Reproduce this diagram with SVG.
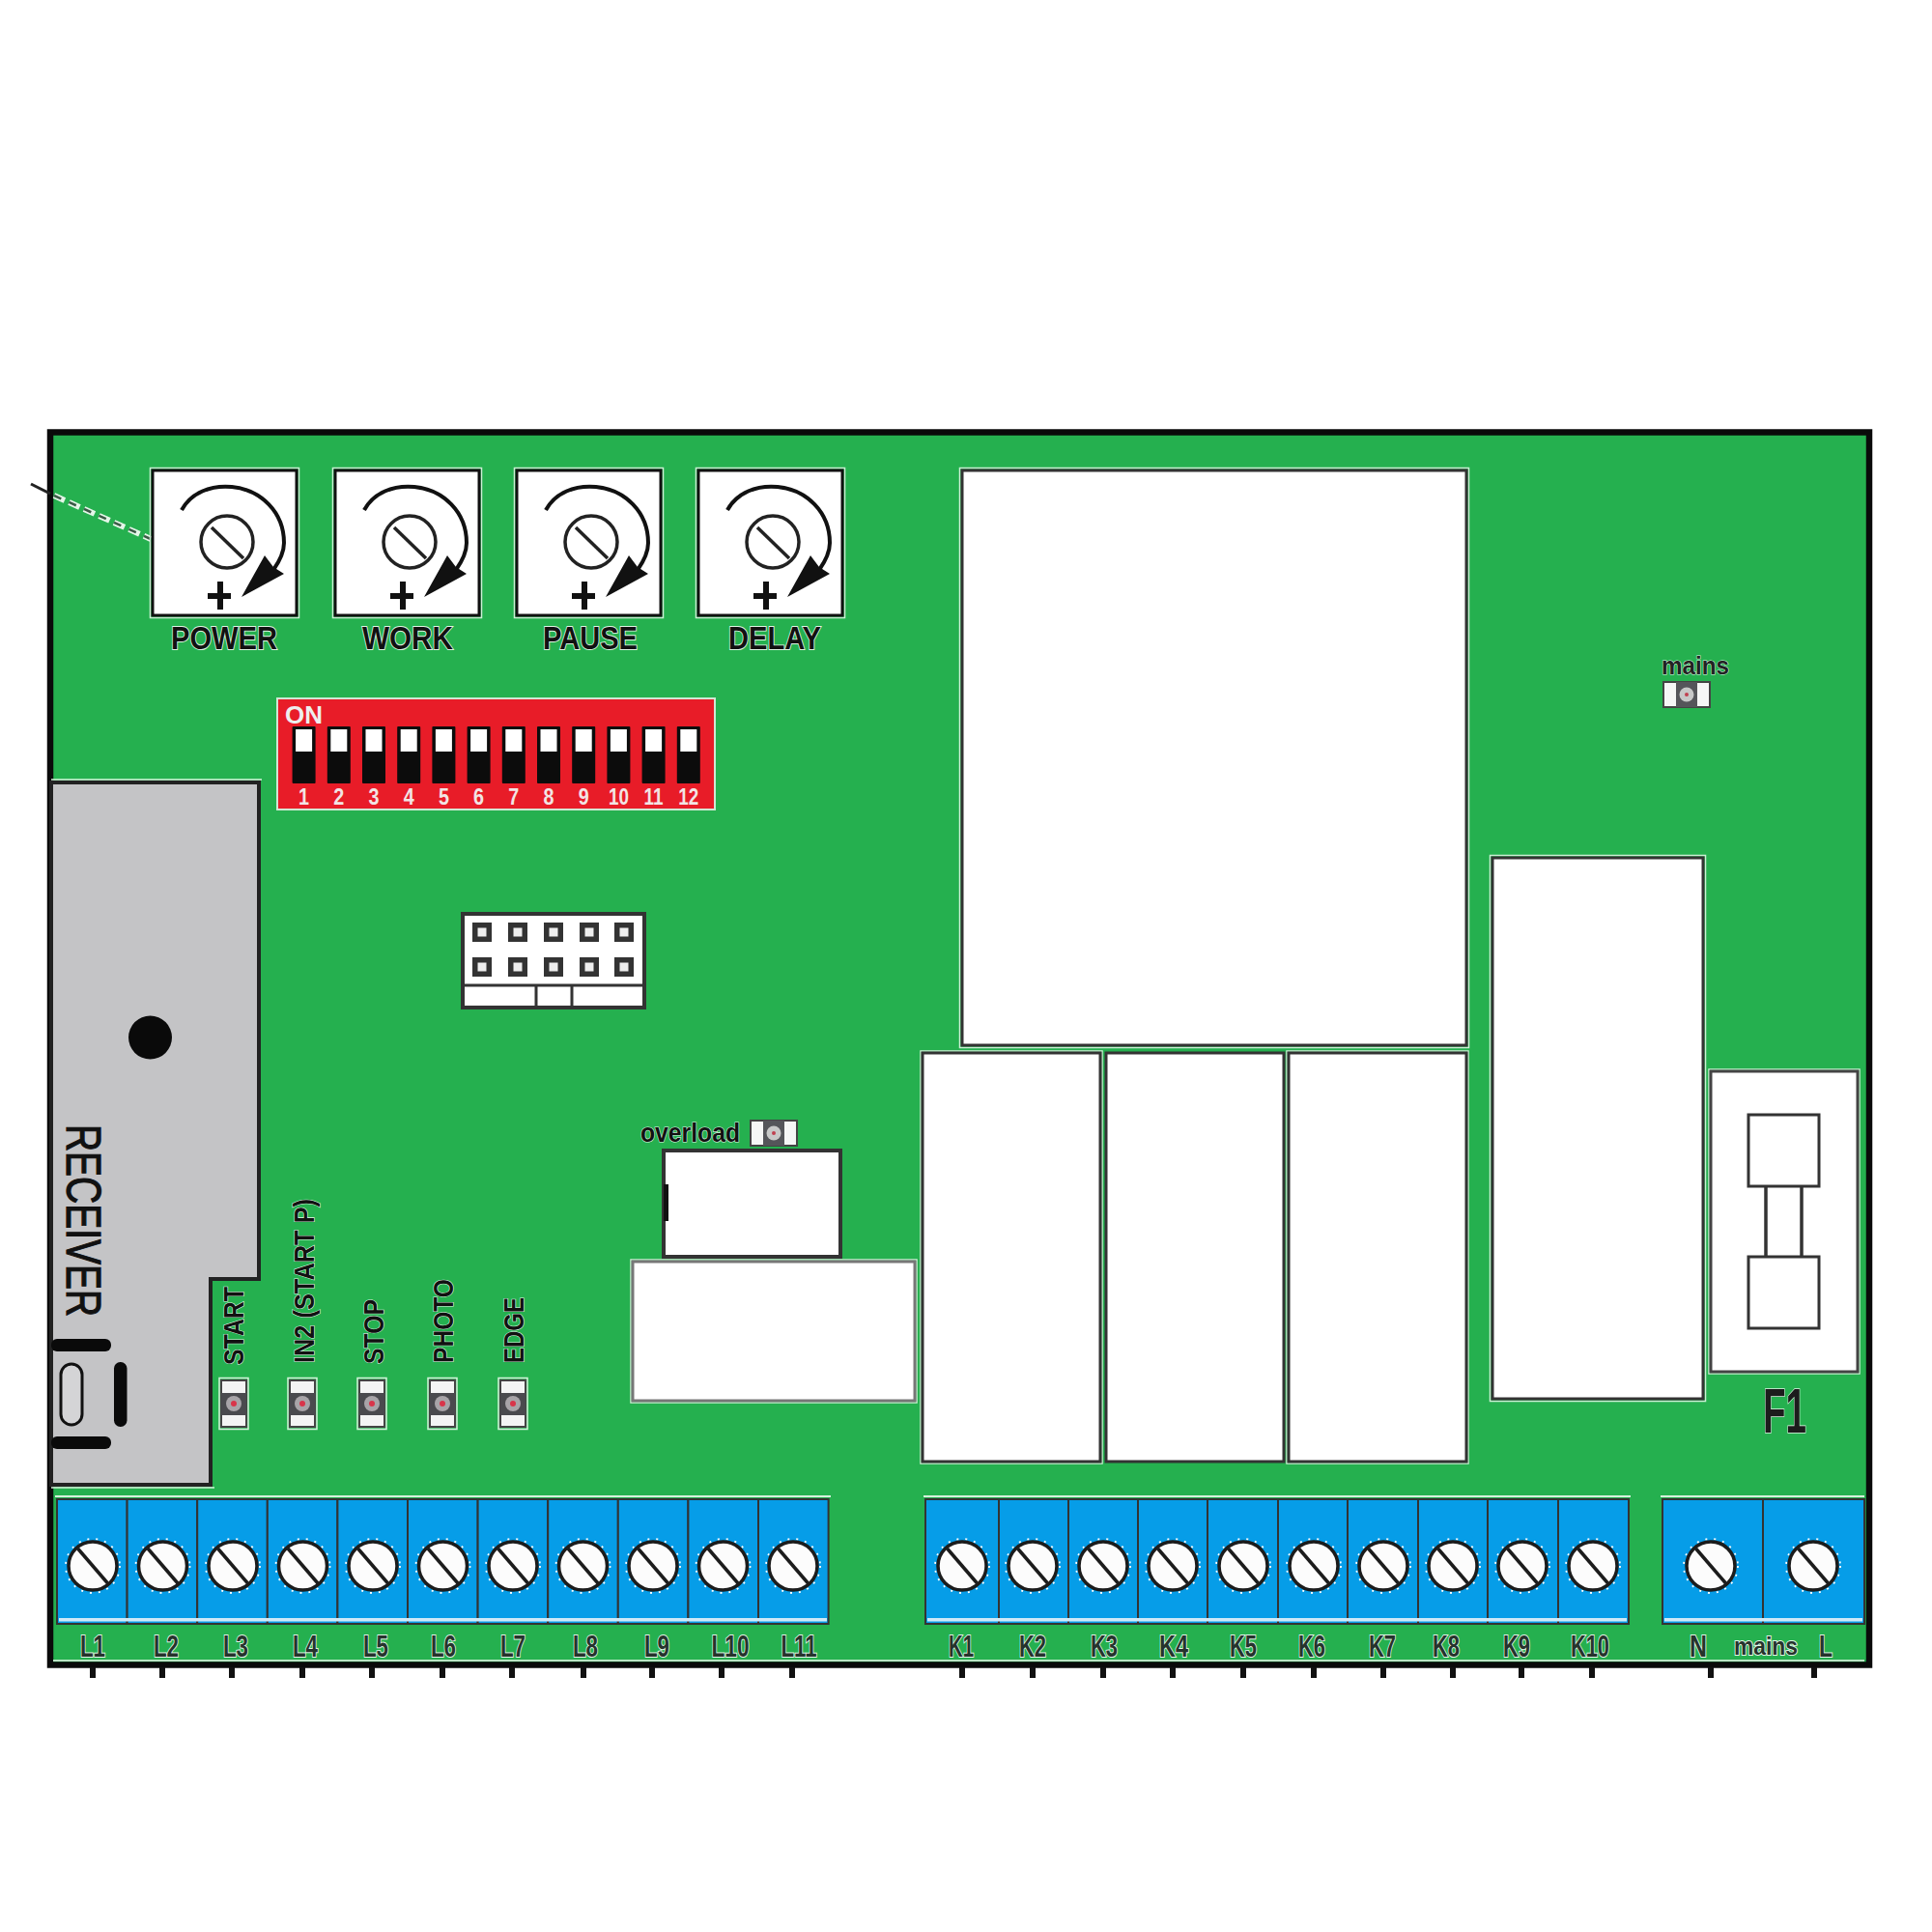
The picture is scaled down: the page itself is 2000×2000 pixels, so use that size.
<svg xmlns="http://www.w3.org/2000/svg" width="2000" height="2000" viewBox="0 0 2000 2000">
<style>
text{font-family:"Liberation Sans",Arial,sans-serif}
.halo{fill:none;stroke:#cdeed5;stroke-width:1.500}
.box{fill:#fff;stroke:#333;stroke-width:3}
.soft{fill:#fff;stroke:#777;stroke-width:3}
.blk{fill:#111}
.lbl{fill:#111;stroke:#dff5e4;stroke-width:1.800;paint-order:stroke;font-size:33px;font-weight:bold}
.vl{fill:#111;stroke:#dff5e4;stroke-width:1.200;paint-order:stroke;font-size:29px;font-weight:bold}
.tl{fill:#26332c;stroke:#e3f6e8;stroke-width:2;paint-order:stroke;font-size:32px;font-weight:bold}
.dipn{fill:#f2e4e4;font-size:24px;text-anchor:middle;font-weight:bold}
.cell{fill:#069de8;stroke:#333;stroke-width:2}
.strip{fill:#cfe9f8}
.tick{fill:#111}
</style>
<defs>
<g id="knob">
<rect class="halo" x="155.500" y="484.500" width="154" height="155"/>
<rect x="158" y="487" width="149" height="150" fill="#fff" stroke="#111" stroke-width="3"/>
<circle cx="235" cy="561" r="27" fill="#fff" stroke="#222" stroke-width="3.500"/>
<line x1="219" y1="546" x2="252" y2="578" stroke="#222" stroke-width="3.500"/>
<path d="M188,528 C198,510 218,502 240,504 C270,507 294,530 294,562 C294,570 290,580 283,590" fill="none" stroke="#111" stroke-width="4"/>
<polygon points="250,618 274,575 283,587 294,594" fill="#111"/>
<path d="M215,617 H239 M228,602 V631" stroke="#111" stroke-width="6" fill="none"/>
</g>
<g id="switch">
<rect x="-12" y="752" width="24" height="59" fill="#0c0c0c" rx="1"/>
<rect x="-8.500" y="755" width="17" height="23" fill="#fff"/>
</g>
<g id="led">
<rect x="-15" y="-26.500" width="30" height="53" fill="none" stroke="#d6f1dc" stroke-width="1.500"/>
<rect x="-13" y="-24" width="26" height="48" fill="#f4f4f4" stroke="#444" stroke-width="2"/>
<rect x="-13" y="-11" width="26" height="23" fill="#4a4a4e"/>
<circle r="8" fill="#a8a4a8"/>
<circle r="3" fill="#d8354a"/>
</g>
<g id="ledh">
<rect x="-24" y="-13" width="48" height="26" fill="#f6f6f6" stroke="#444" stroke-width="2"/>
<rect x="-11" y="-13" width="22" height="26" fill="#55555a"/>
<circle r="7.500" fill="#c8c8c8"/>
<circle r="2" fill="#c04050"/>
</g>
<g id="screw">
<circle r="28" fill="none" stroke="#fff" stroke-width="1.800" stroke-dasharray="2 7"/>
<circle r="25" fill="#fcfcfc" stroke="#1c1c1c" stroke-width="3.500"/>
<line x1="-15.500" y1="-18" x2="15.500" y2="18" stroke="#1c1c1c" stroke-width="3.500"/>
</g>
<g id="pin">
<rect x="-10" y="-10" width="20" height="20" fill="#333"/>
<rect x="-4.500" y="-4.500" width="9" height="9" fill="#eee"/>
</g>
</defs>
<rect width="2000" height="2000" fill="#fff"/>
<g id="board">
<rect x="52" y="447.500" width="1883" height="1276" fill="#25b04f" stroke="#0a0a0a" stroke-width="6.500"/>
<line x1="55" y1="1719" x2="1930" y2="1719" stroke="#b9e6c4" stroke-width="2"/>
<g class="tick">
<rect x="93" y="1726" width="6" height="11"/><rect x="165" y="1726" width="6" height="11"/><rect x="237" y="1726" width="6" height="11"/><rect x="310" y="1726" width="6" height="11"/><rect x="382" y="1726" width="6" height="11"/><rect x="455" y="1726" width="6" height="11"/><rect x="527" y="1726" width="6" height="11"/><rect x="601" y="1726" width="6" height="11"/><rect x="672" y="1726" width="6" height="11"/><rect x="744" y="1726" width="6" height="11"/><rect x="817" y="1726" width="6" height="11"/>
<rect x="993" y="1726" width="6" height="11"/><rect x="1066" y="1726" width="6" height="11"/><rect x="1139" y="1726" width="6" height="11"/><rect x="1211" y="1726" width="6" height="11"/><rect x="1284" y="1726" width="6" height="11"/><rect x="1357" y="1726" width="6" height="11"/><rect x="1429" y="1726" width="6" height="11"/><rect x="1501" y="1726" width="6" height="11"/><rect x="1572" y="1726" width="6" height="11"/><rect x="1645" y="1726" width="6" height="11"/><rect x="1768" y="1726" width="6" height="11"/><rect x="1875" y="1726" width="6" height="11"/>
</g>
</g>
<g id="connectors">
<line x1="32" y1="501" x2="52" y2="511" stroke="#222" stroke-width="3"/>
<line x1="56" y1="513" x2="156" y2="558" stroke="#e4f6e8" stroke-width="6" stroke-dasharray="12 5"/>
<line x1="56" y1="513" x2="156" y2="558" stroke="#3b5a46" stroke-width="2.500" stroke-dasharray="8 9"/>
</g>
<g id="knob-power"><use href="#knob"/><text class="lbl" x="232" y="672" text-anchor="middle" textLength="110" lengthAdjust="spacingAndGlyphs">POWER</text></g>
<g id="knob-work"><use href="#knob" x="189"/><text class="lbl" x="422" y="672" text-anchor="middle" textLength="94" lengthAdjust="spacingAndGlyphs">WORK</text></g>
<g id="knob-pause"><use href="#knob" x="377"/><text class="lbl" x="611" y="672" text-anchor="middle" textLength="98" lengthAdjust="spacingAndGlyphs">PAUSE</text></g>
<g id="knob-delay"><use href="#knob" x="565"/><text class="lbl" x="802" y="672" text-anchor="middle" textLength="96" lengthAdjust="spacingAndGlyphs">DELAY</text></g>
<g id="dip-switch">
<rect x="287" y="723" width="453" height="115" fill="#e81c28" stroke="#cfe8d4" stroke-width="2"/>
<text x="295" y="749" fill="#eee" font-size="25" font-weight="bold" textLength="39" lengthAdjust="spacingAndGlyphs">ON</text>
<use href="#switch" x="314.600"/><use href="#switch" x="350.800"/><use href="#switch" x="387"/><use href="#switch" x="423.200"/><use href="#switch" x="459.400"/><use href="#switch" x="495.600"/><use href="#switch" x="531.800"/><use href="#switch" x="568"/><use href="#switch" x="604.200"/><use href="#switch" x="640.400"/><use href="#switch" x="676.600"/><use href="#switch" x="712.800"/>
<text class="dipn" x="314.600" y="833" textLength="11" lengthAdjust="spacingAndGlyphs">1</text><text class="dipn" x="350.800" y="833" textLength="11" lengthAdjust="spacingAndGlyphs">2</text><text class="dipn" x="387" y="833" textLength="11" lengthAdjust="spacingAndGlyphs">3</text><text class="dipn" x="423.200" y="833" textLength="11" lengthAdjust="spacingAndGlyphs">4</text><text class="dipn" x="459.400" y="833" textLength="11" lengthAdjust="spacingAndGlyphs">5</text><text class="dipn" x="495.600" y="833" textLength="11" lengthAdjust="spacingAndGlyphs">6</text><text class="dipn" x="531.800" y="833" textLength="11" lengthAdjust="spacingAndGlyphs">7</text><text class="dipn" x="568" y="833" textLength="11" lengthAdjust="spacingAndGlyphs">8</text><text class="dipn" x="604.200" y="833" textLength="11" lengthAdjust="spacingAndGlyphs">9</text><text class="dipn" x="640.400" y="833" textLength="21" lengthAdjust="spacingAndGlyphs">10</text><text class="dipn" x="676.600" y="833" textLength="20" lengthAdjust="spacingAndGlyphs">11</text><text class="dipn" x="712.800" y="833" textLength="21" lengthAdjust="spacingAndGlyphs">12</text>
</g>
<g id="receiver">
<path d="M53,810 H268 V1324 H218 V1537 H53 Z" fill="#c4c4c6" stroke="#222" stroke-width="4"/>
<path d="M53,807 H271 M222,1540 H53" fill="none" stroke="#d6f1dc" stroke-width="1.500"/>
<circle cx="155.500" cy="1074" r="22.500" fill="#0a0a0a"/>
<text x="0" y="0" transform="translate(69,1164) rotate(90)" font-size="50" fill="#111" stroke="#111" stroke-width="1.200" textLength="199" lengthAdjust="spacingAndGlyphs">RECEIVER</text>
<rect x="53" y="1386" width="62" height="13" rx="6" fill="#0a0a0a"/>
<rect x="53" y="1487" width="62" height="13" rx="6" fill="#0a0a0a"/>
<rect x="118" y="1410" width="13.500" height="67" rx="6.500" fill="#0a0a0a"/>
<rect x="63" y="1412" width="22" height="63" rx="11" fill="#d4d4d6" stroke="#111" stroke-width="3"/>
</g>
<g id="led-start"><use href="#led" x="242" y="1453"/><text class="vl" transform="translate(252,1413) rotate(-90)" textLength="81" lengthAdjust="spacingAndGlyphs">START</text></g>
<g id="led-in2"><use href="#led" x="313" y="1453"/><text class="vl" transform="translate(325,1411) rotate(-90)" textLength="170" lengthAdjust="spacingAndGlyphs">IN2 (START P)</text></g>
<g id="led-stop"><use href="#led" x="385" y="1453"/><text class="vl" transform="translate(397,1412) rotate(-90)" textLength="67" lengthAdjust="spacingAndGlyphs">STOP</text></g>
<g id="led-photo"><use href="#led" x="458" y="1453"/><text class="vl" transform="translate(469,1411) rotate(-90)" textLength="87" lengthAdjust="spacingAndGlyphs">PHOTO</text></g>
<g id="led-edge"><use href="#led" x="531" y="1453"/><text class="vl" transform="translate(542,1411) rotate(-90)" textLength="68" lengthAdjust="spacingAndGlyphs">EDGE</text></g>
<g id="header">
<rect x="479" y="946" width="188" height="97" class="box" style="stroke-width:4"/>
<path d="M479,1020 H667 M555,1020 V1043 M592,1020 V1043" stroke="#333" stroke-width="3" fill="none"/>
<use href="#pin" x="499" y="965"/><use href="#pin" x="536" y="965"/><use href="#pin" x="573" y="965"/><use href="#pin" x="610" y="965"/><use href="#pin" x="646" y="965"/>
<use href="#pin" x="499" y="1001"/><use href="#pin" x="536" y="1001"/><use href="#pin" x="573" y="1001"/><use href="#pin" x="610" y="1001"/><use href="#pin" x="646" y="1001"/>
</g>
<g id="led-overload"><text x="663" y="1182" font-size="28" font-weight="bold" fill="#111" stroke="#dff5e4" stroke-width="1.200" paint-order="stroke" textLength="103" lengthAdjust="spacingAndGlyphs">overload</text><use href="#ledh" x="801" y="1173"/></g>
<g id="led-mains"><text x="1720" y="698" font-size="25" font-weight="bold" fill="#222" stroke="#dff5e4" stroke-width="1" paint-order="stroke" textLength="70" lengthAdjust="spacingAndGlyphs">mains</text><use href="#ledh" x="1746" y="719"/></g>
<g id="small-relay">
<rect class="box" x="687" y="1191" width="183" height="110" style="stroke-width:4"/>
<rect x="687" y="1226" width="5" height="38" fill="#111"/>
</g>
<g id="transformer-small"><rect class="halo" x="653" y="1304" width="296" height="148"/><rect class="soft" x="655" y="1306" width="292" height="144"/></g>
<g id="relay-main"><rect class="halo" x="993.500" y="484.500" width="527" height="600"/><rect class="box" x="996" y="487" width="522" height="595"/></g>
<g id="relay-1"><rect class="halo" x="953" y="1088" width="188" height="427"/><rect class="box" x="955" y="1090" width="184" height="423"/></g>
<g id="relay-2"><rect class="box" x="1145" y="1090" width="184" height="423"/></g>
<g id="relay-3"><rect class="halo" x="1332" y="1088" width="188" height="427"/><rect class="box" x="1334" y="1090" width="184" height="423"/></g>
<g id="relay-tall"><rect class="halo" x="1542.500" y="885.500" width="223" height="565"/><rect class="box" x="1545" y="888" width="218" height="560"/></g>
<g id="fuse">
<rect class="halo" x="1769" y="1107" width="156" height="315"/>
<rect class="soft" x="1771" y="1109" width="152" height="311" style="stroke:#444"/>
<path d="M1828,1228 V1301 M1865,1228 V1301" stroke="#333" stroke-width="3.500" fill="none"/>
<rect class="box" x="1810" y="1154" width="73" height="74"/>
<rect class="box" x="1810" y="1301" width="73" height="74"/>
<text x="1825" y="1483" font-size="64" font-weight="bold" fill="#1c1c1c" stroke="#dff5e4" stroke-width="1.500" paint-order="stroke" textLength="45" lengthAdjust="spacingAndGlyphs">F1</text>
</g>
<g id="terminals-l">
<path d="M57,1549 H860" fill="none" stroke="#d6f1dc" stroke-width="2"/>
<g class="cells">
<rect class="cell" x="59" y="1552" width="72.600" height="129"/><rect class="cell" x="131.600" y="1552" width="72.600" height="129"/><rect class="cell" x="204.200" y="1552" width="72.600" height="129"/><rect class="cell" x="276.800" y="1552" width="72.600" height="129"/><rect class="cell" x="349.400" y="1552" width="72.600" height="129"/><rect class="cell" x="422" y="1552" width="72.600" height="129"/><rect class="cell" x="494.600" y="1552" width="72.600" height="129"/><rect class="cell" x="567.200" y="1552" width="72.600" height="129"/><rect class="cell" x="639.800" y="1552" width="72.600" height="129"/><rect class="cell" x="712.400" y="1552" width="72.600" height="129"/><rect class="cell" x="785" y="1552" width="72.600" height="129"/>
</g>
<rect class="strip" x="61" y="1675" width="795" height="3.500"/>
<use href="#screw" x="96" y="1621"/><use href="#screw" x="168.500" y="1621"/><use href="#screw" x="241" y="1621"/><use href="#screw" x="313.500" y="1621"/><use href="#screw" x="386" y="1621"/><use href="#screw" x="458.500" y="1621"/><use href="#screw" x="531" y="1621"/><use href="#screw" x="603.500" y="1621"/><use href="#screw" x="676" y="1621"/><use href="#screw" x="748.500" y="1621"/><use href="#screw" x="821" y="1621"/>
<g text-anchor="middle">
<text class="tl" x="96" y="1715" textLength="26" lengthAdjust="spacingAndGlyphs">L1</text><text class="tl" x="172" y="1715" textLength="26" lengthAdjust="spacingAndGlyphs">L2</text><text class="tl" x="244" y="1715" textLength="26" lengthAdjust="spacingAndGlyphs">L3</text><text class="tl" x="316" y="1715" textLength="26" lengthAdjust="spacingAndGlyphs">L4</text><text class="tl" x="389" y="1715" textLength="26" lengthAdjust="spacingAndGlyphs">L5</text><text class="tl" x="459" y="1715" textLength="26" lengthAdjust="spacingAndGlyphs">L6</text><text class="tl" x="531" y="1715" textLength="26" lengthAdjust="spacingAndGlyphs">L7</text><text class="tl" x="606" y="1715" textLength="26" lengthAdjust="spacingAndGlyphs">L8</text><text class="tl" x="680" y="1715" textLength="26" lengthAdjust="spacingAndGlyphs">L9</text><text class="tl" x="756" y="1715" textLength="39" lengthAdjust="spacingAndGlyphs">L10</text><text class="tl" x="827" y="1715" textLength="37" lengthAdjust="spacingAndGlyphs">L11</text>
</g>
</g>
<g id="terminals-k">
<path d="M956,1549 H1688" fill="none" stroke="#d6f1dc" stroke-width="2"/>
<rect class="cell" x="958" y="1552" width="76" height="129"/><rect class="cell" x="1034" y="1552" width="72" height="129"/><rect class="cell" x="1106" y="1552" width="72" height="129"/><rect class="cell" x="1178" y="1552" width="72" height="129"/><rect class="cell" x="1250" y="1552" width="73" height="129"/><rect class="cell" x="1323" y="1552" width="72" height="129"/><rect class="cell" x="1395" y="1552" width="73" height="129"/><rect class="cell" x="1468" y="1552" width="72" height="129"/><rect class="cell" x="1540" y="1552" width="73" height="129"/><rect class="cell" x="1613" y="1552" width="73" height="129"/>
<rect class="strip" x="960" y="1675" width="724" height="3.500"/>
<use href="#screw" x="996" y="1621"/><use href="#screw" x="1069" y="1621"/><use href="#screw" x="1142" y="1621"/><use href="#screw" x="1214" y="1621"/><use href="#screw" x="1287" y="1621"/><use href="#screw" x="1360" y="1621"/><use href="#screw" x="1432" y="1621"/><use href="#screw" x="1504" y="1621"/><use href="#screw" x="1576" y="1621"/><use href="#screw" x="1649" y="1621"/>
<g text-anchor="middle">
<text class="tl" x="995" y="1715" textLength="26" lengthAdjust="spacingAndGlyphs">K1</text><text class="tl" x="1069" y="1715" textLength="28" lengthAdjust="spacingAndGlyphs">K2</text><text class="tl" x="1143" y="1715" textLength="28" lengthAdjust="spacingAndGlyphs">K3</text><text class="tl" x="1215" y="1715" textLength="30" lengthAdjust="spacingAndGlyphs">K4</text><text class="tl" x="1287" y="1715" textLength="28" lengthAdjust="spacingAndGlyphs">K5</text><text class="tl" x="1358" y="1715" textLength="28" lengthAdjust="spacingAndGlyphs">K6</text><text class="tl" x="1431" y="1715" textLength="28" lengthAdjust="spacingAndGlyphs">K7</text><text class="tl" x="1497" y="1715" textLength="28" lengthAdjust="spacingAndGlyphs">K8</text><text class="tl" x="1570" y="1715" textLength="28" lengthAdjust="spacingAndGlyphs">K9</text><text class="tl" x="1646" y="1715" textLength="40" lengthAdjust="spacingAndGlyphs">K10</text>
</g>
</g>
<g id="terminals-mains">
<path d="M1719,1549 H1930" fill="none" stroke="#d6f1dc" stroke-width="2"/>
<rect class="cell" x="1721" y="1552" width="104" height="129"/><rect class="cell" x="1825" y="1552" width="105" height="129"/>
<rect class="strip" x="1723" y="1675" width="205" height="3.500"/>
<use href="#screw" x="1771" y="1621"/><use href="#screw" x="1877" y="1621"/>
<g text-anchor="middle">
<text class="tl" x="1758" y="1715" textLength="18" lengthAdjust="spacingAndGlyphs">N</text>
<text class="tl" x="1828" y="1713" style="font-size:26px" textLength="66" lengthAdjust="spacingAndGlyphs">mains</text>
<text class="tl" x="1890" y="1715" textLength="14" lengthAdjust="spacingAndGlyphs">L</text>
</g>
</g>
</svg>
